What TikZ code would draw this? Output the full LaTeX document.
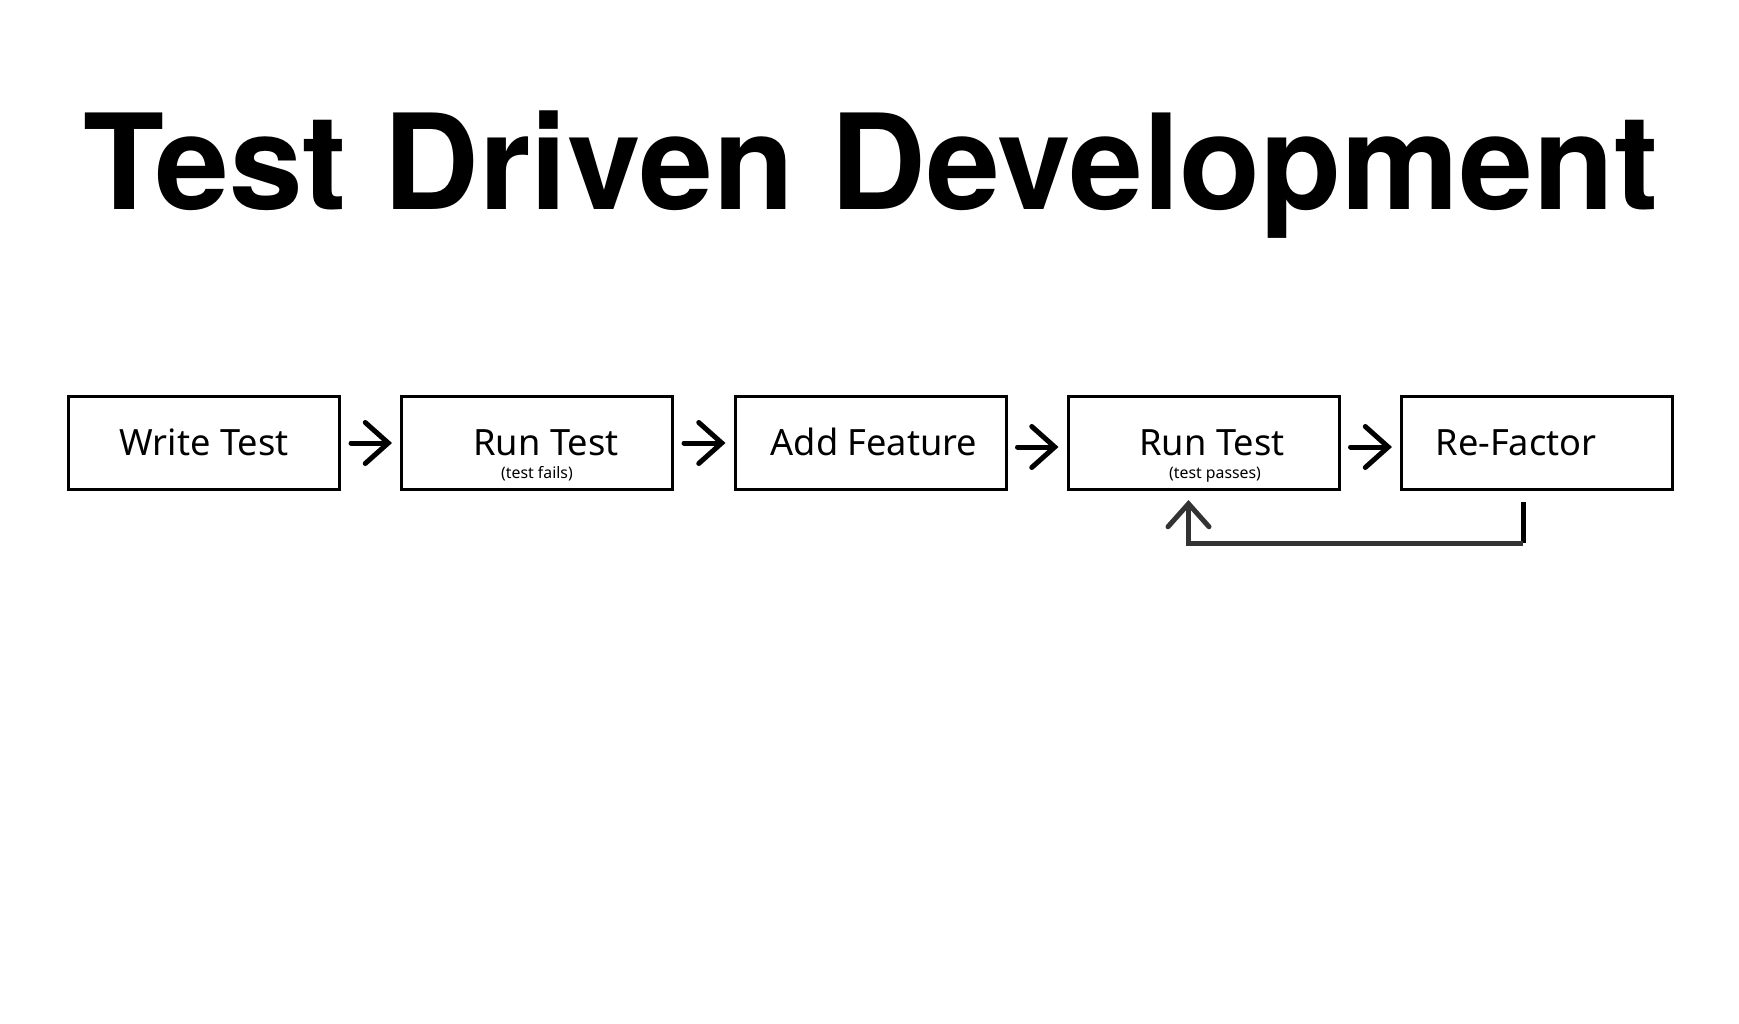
\documentclass[tikz,border=0pt]{standalone}
\usepackage{fontspec}
\setmainfont{Noto Sans}
\newfontfamily\titlefont{TeX Gyre Heros}
\usetikzlibrary{arrows.meta}
\tikzset{
	stepbox/.style={draw,line width=0.3mm,minimum width=27.1mm,minimum height=9.3mm,inner sep=0pt},
	steplabel/.style={font=\fontsize{10.3}{12}\selectfont,anchor=base},
	sublabel/.style={font=\fontsize{4.5}{5}\selectfont,anchor=base},
	nextarrow/.style={line width=0.5mm,line cap=round,-{Straight Barb[length=2.3mm,width=4.1mm,line cap=round]}},
}
\begin{document}
\begin{tikzpicture}[x=0.1mm,y=-0.1mm]
	\useasboundingbox (0,0) rectangle (1739,1024);
	\node[font=\titlefont\fontsize{37.7}{44}\selectfont\bfseries,anchor=base] (title) at (871,210) {Test Driven Development};
	\foreach \i/\x/\t/\tx in {1/204/Write Test/204,2/537/Run Test/546,3/870.5/Add Feature/874,4/1203.5/Run Test/1212,5/1537/Re-Factor/1516}{
		\node[stepbox] (b\i) at (\x,443) {};
		\node[steplabel] (t\i) at (\tx,455) {\t};
	}
	\node[sublabel] (s2) at (537,478) {(test fails)};
	\node[sublabel] (s4) at (1215,478) {(test passes)};
	\foreach \i/\j/\dy in {1/2/0mm,2/3/0mm,3/4/-0.4mm,4/5/-0.4mm}{
		\draw[nextarrow,shorten <=1mm,shorten >=0.8mm] ([yshift=\dy]b\i.east) -- ([yshift=\dy]b\j.west);
	}
	% loop back from re-factor
	\coordinate (c) at ([xshift=-1.4mm,yshift=-5.2mm]b5.south);
	\draw[line width=0.5mm,shorten <=1.1mm] ([xshift=-1.4mm]b5.south) -- (c);
	\draw[nextarrow,black!80,line cap=butt,shorten >=0.9mm] (c) -| ([xshift=-1.5mm]b4.south);
\end{tikzpicture}
\end{document}
